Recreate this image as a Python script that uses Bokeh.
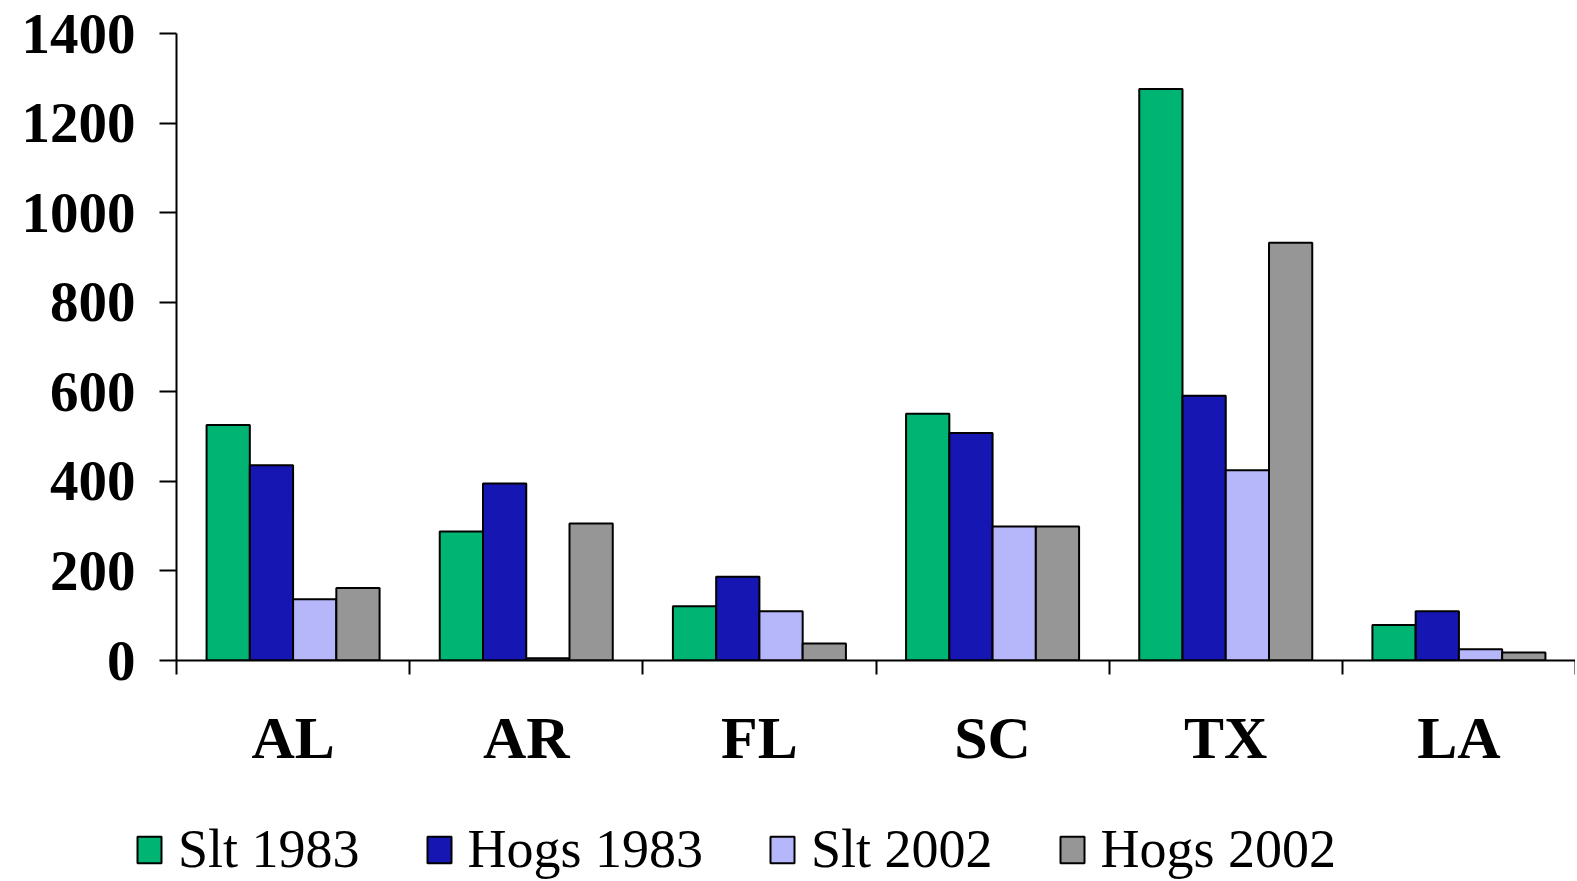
from bokeh.plotting import figure
from bokeh.layouts import column
from bokeh.models import ColumnDataSource, Range1d, FixedTicker, Legend, LegendItem
from bokeh.transform import dodge
from bokeh.embed import file_html
from bokeh.resources import INLINE

states = ["AL", "AR", "FL", "SC", "TX", "LA"]
slt_1983 = [526, 288, 121, 551, 1276, 79]
hogs_1983 = [436, 395, 187, 508, 591, 110]
slt_2002 = [137, 5, 110, 299, 425, 25]
hogs_2002 = [162, 306, 38, 299, 933, 18]
series_names = ["Slt 1983", "Hogs 1983", "Slt 2002", "Hogs 2002"]
y_ticks = [0, 200, 400, 600, 800, 1000, 1200, 1400]

colors = ["#00B574", "#1616B2", "#B6B6FB", "#969696"]

n = len(states)
centers = [i + 0.5 for i in range(n)]
src = ColumnDataSource(dict(xc=centers, s0=slt_1983, s1=hogs_1983, s2=slt_2002, s3=hogs_2002))

W = 1575
p = figure(width=W, height=805, x_range=Range1d(0, n), y_range=Range1d(0, 1400),
           output_backend="svg", toolbar_location=None,
           min_border_left=176, min_border_top=33, min_border_bottom=145, min_border_right=0)
p.outline_line_color = None
p.grid.visible = False

bw = 0.1855
offsets = [-1.5 * bw, -0.5 * bw, 0.5 * bw, 1.5 * bw]
for k, col in enumerate(colors):
    p.vbar(x=dodge("xc", offsets[k], range=p.x_range), top="s%d" % k, width=bw, bottom=0,
           source=src, fill_color=col, line_color="black", line_width=2)

# y axis
ya = p.yaxis[0]
ya.ticker = FixedTicker(ticks=y_ticks)
ya.axis_line_width = 2
ya.axis_line_color = "black"
ya.major_tick_line_width = 2
ya.major_tick_out = 17
ya.major_tick_in = 0
ya.minor_tick_line_color = None
ya.major_label_text_font = "Liberation Serif"
ya.major_label_text_font_style = "bold"
ya.major_label_text_font_size = "57px"
ya.major_label_text_color = "black"
ya.major_label_standoff = 24

# x axis: labels at category centres, ticks at category boundaries
xa = p.xaxis[0]
xa.ticker = FixedTicker(ticks=centers, minor_ticks=list(range(n + 1)))
xa.major_label_overrides = {c: s for c, s in zip(centers, states)}
xa.axis_line_width = 2
xa.axis_line_color = "black"
xa.major_tick_line_color = None
xa.major_tick_out = 14
xa.major_tick_in = 0
xa.minor_tick_line_color = "black"
xa.minor_tick_line_width = 2
xa.minor_tick_out = 14
xa.minor_tick_in = 0
xa.major_label_text_font = "Liberation Serif"
xa.major_label_text_font_style = "bold"
xa.major_label_text_font_size = "60px"
xa.major_label_text_color = "black"
xa.major_label_standoff = 30

# legend strip: hidden copies of the series, only their legend entries are shown
p2 = figure(width=W, height=75, x_range=Range1d(0, n), y_range=Range1d(0, 1400),
            output_backend="svg", toolbar_location=None,
            x_axis_location=None, y_axis_location=None,
            min_border_left=0, min_border_right=0, min_border_top=0, min_border_bottom=0)
p2.outline_line_color = None
p2.grid.visible = False

aligned = True
try:
    p.frame_align = False
    p2.frame_align = False
    aligned = False
except Exception:
    aligned = True

leg_renderers = []
for k, col in enumerate(colors):
    r = p2.vbar(x=dodge("xc", offsets[k], range=p2.x_range), top="s%d" % k,
                width=bw, bottom=0, source=src, fill_color=col,
                line_color="black", line_width=2)
    r.visible = False
    leg_renderers.append(r)

legend = Legend(items=[LegendItem(label=nm, renderers=[r]) for nm, r in zip(series_names, leg_renderers)],
                orientation="horizontal",
                location=(0, 0) if aligned else (134, 0),
                glyph_width=30, glyph_height=33, label_standoff=14,
                spacing=50 if aligned else 64,
                padding=0, margin=0, border_line_color=None, background_fill_alpha=0,
                inactive_fill_alpha=0,
                label_text_font="Liberation Serif", label_text_font_size="54px",
                label_text_color="black")
p2.add_layout(legend, "center")

layout = column(p, p2, spacing=0)
open("out.html", "w").write(file_html(layout, INLINE))
